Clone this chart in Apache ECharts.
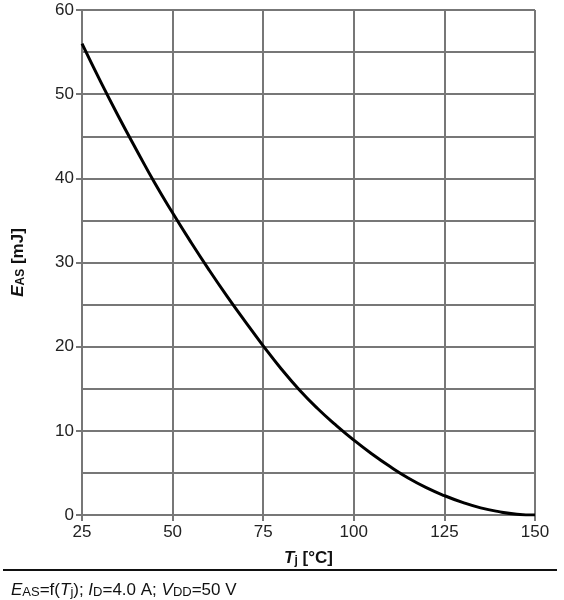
<!DOCTYPE html>
<html>
<head>
<meta charset="utf-8">
<script src="https://cdn.jsdelivr.net/npm/echarts@6/dist/echarts.min.js"></script>
<style>
  html, body { margin: 0; padding: 0; background: #fff; }
  #main { width: 564px; height: 600px; }
</style>
</head>
<body>
<div id="main"></div>
<script>
// junction temperature [°C]
const tj = [25, 30, 35, 40, 45, 50, 55, 60, 65, 70, 75, 80, 85, 90, 95, 100, 105, 110, 115, 120, 125, 130, 135, 140, 145, 150];
// avalanche energy [mJ]
const eas = [56, 51.6, 47.4, 43.4, 39.5, 35.9, 32.45, 29.15, 26.0, 23.0, 20.1, 17.35, 14.85, 12.65, 10.7, 8.9, 7.25, 5.75, 4.4, 3.25, 2.3, 1.5, 0.85, 0.4, 0.1, 0.0];
const xTicks = [25, 50, 75, 100, 125, 150];
const yTicks = [0, 10, 20, 30, 40, 50, 60];

const font = 'Liberation Sans, Arial, sans-serif';
const gridColor = '#777';

const chart = echarts.init(document.getElementById('main'));

// rich styles for titles with italic symbols and small subscripts
const richStyles = (weight, size, subSize) => ({
  i: { fontFamily: font, fontSize: size, fontWeight: weight, fontStyle: 'italic', color: '#111', verticalAlign: 'bottom', lineHeight: 20 },
  n: { fontFamily: font, fontSize: size, fontWeight: weight, color: '#111', verticalAlign: 'bottom', lineHeight: 20 },
  s: { fontFamily: font, fontSize: subSize, fontWeight: weight, color: '#111', verticalAlign: 'bottom', lineHeight: 19 }
});

const option = {
  animation: false,
  backgroundColor: '#fff',
  textStyle: { fontFamily: font },
  title: {
    left: 6,
    top: 574,
    text: '{i|E}{s|AS}{n|=f(}{i|T}{s|j}{n|); }{i|I}{s|D}{n|=4.0 A; }{i|V}{s|DD}{n|=50 V}',
    textStyle: { fontWeight: 'normal', rich: richStyles('normal', 17, 13) }
  },
  graphic: [
    {
      type: 'line',
      shape: { x1: 3, y1: 570, x2: 557, y2: 570 },
      style: { stroke: '#111', lineWidth: 2 }
    }
  ],
  grid: { left: 82, right: 29, top: 10, bottom: 85 },
  xAxis: {
    type: 'value',
    min: xTicks[0],
    max: xTicks[xTicks.length - 1],
    interval: 25,
    name: '{i|T}{s|j}{n| [°C]}',
    nameLocation: 'middle',
    nameGap: 32,
    nameTextStyle: { rich: richStyles('bold', 17, 12) },
    axisLine: { show: true, lineStyle: { color: gridColor, width: 2 } },
    axisTick: { show: true, length: 6, lineStyle: { color: gridColor, width: 2 } },
    axisLabel: {
      color: '#222', fontSize: 17, fontFamily: font, margin: 9,
      formatter: v => (xTicks.includes(v) ? String(v) : '')
    },
    splitLine: { show: true, lineStyle: { color: gridColor, width: 2 } }
  },
  yAxis: {
    type: 'value',
    min: yTicks[0],
    max: yTicks[yTicks.length - 1],
    interval: 10,
    name: '{i|E}{s|AS}{n| [mJ]}',
    nameLocation: 'middle',
    nameRotate: 90,
    nameGap: 55,
    nameTextStyle: { rich: richStyles('bold', 17, 12) },
    axisLine: { show: true, lineStyle: { color: gridColor, width: 2 } },
    axisTick: { show: true, length: 6, lineStyle: { color: gridColor, width: 2 } },
    minorTick: { show: false, splitNumber: 2 },
    axisLabel: {
      color: '#222', fontSize: 17, fontFamily: font, margin: 8,
      formatter: v => (yTicks.includes(v) ? String(v) : '')
    },
    splitLine: { show: true, lineStyle: { color: gridColor, width: 2 } },
    minorSplitLine: { show: true, lineStyle: { color: gridColor, width: 2 } }
  },
  series: [
    {
      type: 'line',
      data: tj.map((t, i) => [t, eas[i]]),
      smooth: 0.5,
      showSymbol: false,
      lineStyle: { color: '#000', width: 3 }
    }
  ]
};

chart.setOption(option);
</script>
</body>
</html>
